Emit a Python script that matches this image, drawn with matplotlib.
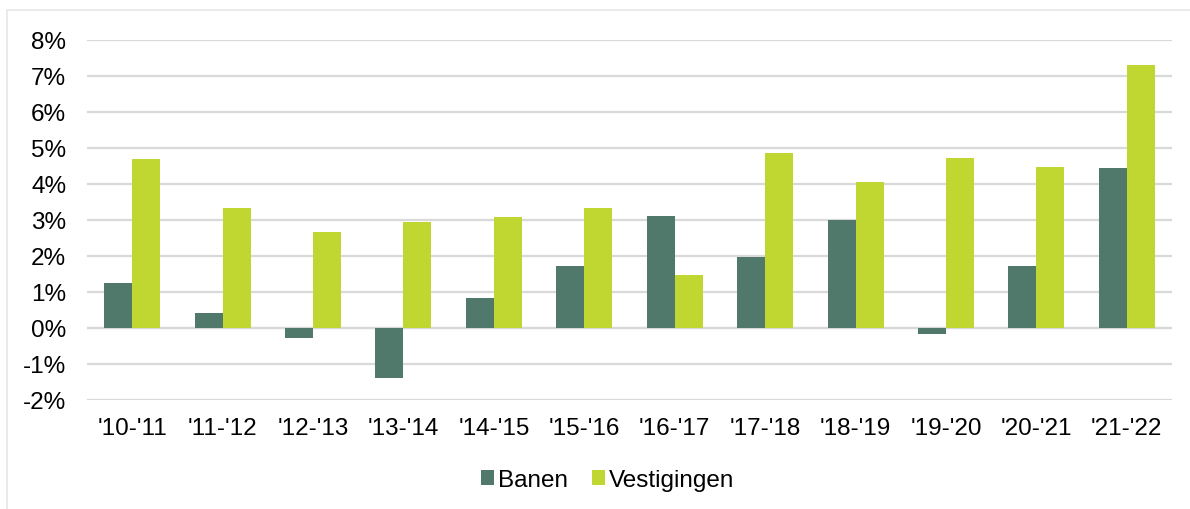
import matplotlib
matplotlib.use("Agg")
import matplotlib.pyplot as plt
import numpy as np
from matplotlib.patches import Rectangle

categories = ["'10-'11", "'11-'12", "'12-'13", "'13-'14", "'14-'15", "'15-'16",
              "'16-'17", "'17-'18", "'18-'19", "'19-'20", "'20-'21", "'21-'22"]
banen = [1.24, 0.41, -0.29, -1.40, 0.82, 1.73, 3.10, 1.96, 2.99, -0.16, 1.73, 4.44]
vestigingen = [4.69, 3.32, 2.66, 2.95, 3.07, 3.32, 1.46, 4.86, 4.05, 4.72, 4.46, 7.31]
yticks = [-2, -1, 0, 1, 2, 3, 4, 5, 6, 7, 8]

plt.rcParams['font.family'] = ['Liberation Sans', 'DejaVu Sans']

W, H = 1190, 510
fig = plt.figure(figsize=(W / 100, H / 100), dpi=100)
fig.patches.append(Rectangle((7 / W, -0.1), 1.2, 1 - 11 / H + 0.1, transform=fig.transFigure,
                             fill=False, edgecolor='#e6e6e6', linewidth=1.2))

ax = fig.add_axes([87 / W, 1 - 401 / H, (1172 - 87) / W, (401 - 40.7) / H])
x = np.arange(len(categories))
bw = 0.31
c_b = '#50786b'
c_v = '#bfd730'
ax.bar(x - bw / 2, banen, bw, color=c_b, label='Banen', zorder=3)
ax.bar(x + bw / 2, vestigingen, bw, color=c_v, label='Vestigingen', zorder=3)

ax.set_xlim(-0.5, len(categories) - 0.5)
ax.set_ylim(-2, 8)
ax.set_yticks(yticks)
ax.set_yticklabels([f"{v}%" for v in yticks])
ax.set_xticks(x)
ax.set_xticklabels(categories)
ax.grid(axis='y', color='#d9d9d9', linewidth=1.6, zorder=0)
ax.axhline(0, color='#d9d9d9', linewidth=1.6, zorder=2)
for s in ax.spines.values():
    s.set_visible(False)
ax.tick_params(axis='both', length=0, labelsize=17.5, colors='#000000')
ax.tick_params(axis='y', pad=15)
ax.tick_params(axis='x', pad=12)

leg = fig.legend(loc='center', bbox_to_anchor=(607.5 / W, 1 - 481 / H), ncol=2, frameon=False,
                 fontsize=17.5, handlelength=0.55, handleheight=0.55, handletextpad=0.15,
                 columnspacing=1.0)

fig.savefig('out.png', dpi=100)
